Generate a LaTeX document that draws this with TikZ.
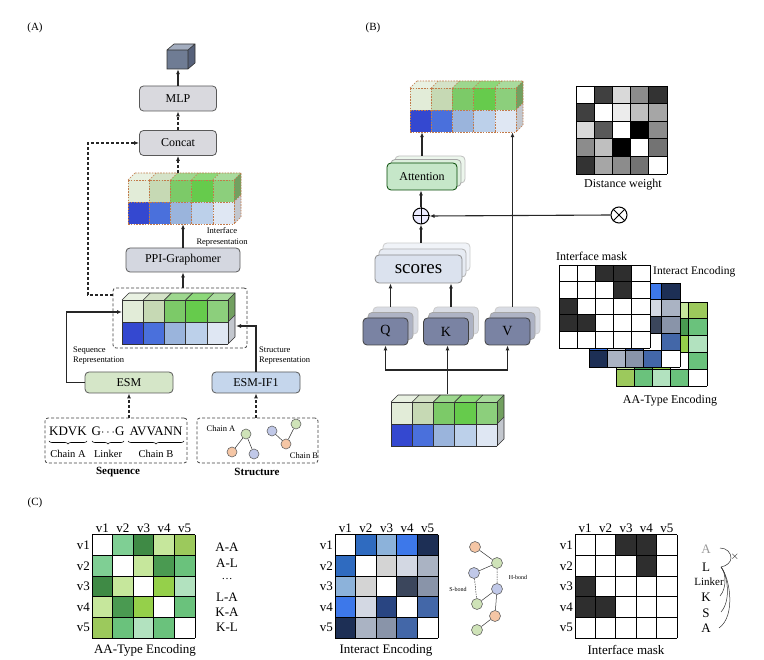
\documentclass[tikz,border=0pt]{standalone}
\usepackage{fontspec}
\setmainfont{Liberation Serif}
\usetikzlibrary{arrows.meta,decorations.pathreplacing}
% feature block colours
\definecolor{fg1}{HTML}{E2ECD8}\definecolor{fg2}{HTML}{C6D9B4}\definecolor{fg3}{HTML}{7CCA68}
\definecolor{fg4}{HTML}{66CB4C}\definecolor{fg5}{HTML}{8CCF7C}
\definecolor{fb1}{HTML}{3448D0}\definecolor{fb2}{HTML}{4A70DC}\definecolor{fb3}{HTML}{9AB4DC}
\definecolor{fb4}{HTML}{BCD0EA}\definecolor{fb5}{HTML}{DFE7F3}
\definecolor{fgside}{HTML}{72A060}\definecolor{fbside}{HTML}{C3C7CE}
% boxes
\definecolor{boxgray}{HTML}{D9D9DE}\definecolor{boxgray2}{HTML}{D4D7E0}
\definecolor{esmg}{HTML}{D5E6C8}\definecolor{esmb}{HTML}{C5D6EC}
\definecolor{attf}{HTML}{C6E7C9}\definecolor{attb}{HTML}{DCEFDD}\definecolor{attbb}{HTML}{ECF6EC}
\definecolor{scf}{HTML}{DBE2EE}\definecolor{scb}{HTML}{E6EBF3}\definecolor{scbb}{HTML}{F0F3F8}
\definecolor{qkf}{HTML}{7A83A3}\definecolor{qkb}{HTML}{AEB3C4}\definecolor{qkbb}{HTML}{D9DCE4}
\definecolor{cubef}{HTML}{6F7C94}\definecolor{cubet}{HTML}{A3ADBF}\definecolor{cubes}{HTML}{56617A}
% AA-type
\definecolor{aa1}{HTML}{7FCF94}\definecolor{aa2}{HTML}{3F8A45}\definecolor{aa3}{HTML}{C6E79C}
\definecolor{aa4}{HTML}{9CC95C}\definecolor{aa5}{HTML}{4A9A51}\definecolor{aa6}{HTML}{6AC27C}
\definecolor{aa7}{HTML}{95D04A}\definecolor{aa8}{HTML}{B2E2BF}
% interact
\definecolor{ie1}{HTML}{2F6BC0}\definecolor{ie2}{HTML}{8CB2DA}\definecolor{ie3}{HTML}{3D78EA}
\definecolor{ie4}{HTML}{1D2F55}\definecolor{ie5}{HTML}{D4D4D4}\definecolor{ie6}{HTML}{D3D8E3}
\definecolor{ie7}{HTML}{AAB3C3}\definecolor{ie8}{HTML}{3B465C}\definecolor{ie9}{HTML}{8994A9}
\definecolor{ie10}{HTML}{294582}\definecolor{ie11}{HTML}{4367A8}
% mask / distance
\definecolor{mk}{HTML}{2E2E2E}
\definecolor{dw1}{HTML}{404040}\definecolor{dw2}{HTML}{D9D9D9}\definecolor{dw3}{HTML}{8C8C8C}
\definecolor{dw4}{HTML}{333333}\definecolor{dw5}{HTML}{ECECEC}\definecolor{dw6}{HTML}{BFBFBF}
\definecolor{dw7}{HTML}{A6A6A6}\definecolor{dw8}{HTML}{595959}\definecolor{dw9}{HTML}{737373}
% graph nodes
\definecolor{ndo}{HTML}{F5C6A5}\definecolor{ndg}{HTML}{CFE3B8}\definecolor{ndb}{HTML}{C0C8E8}
\definecolor{dashbr}{HTML}{C27A4A}

\newcommand{\featblock}[3]{%
\begin{scope}[shift={(#1,#2)}]
\foreach \c [count=\i from 0] in {fg1,fg2,fg3,fg4,fg5}{
  \fill[\c!75!white] (\i*21.2,0) -- ++(7,-7) -- ++(21.2,0) -- ++(-7,7) -- cycle;
  \fill[\c] (\i*21.2,0) rectangle ++(21.2,22);
}
\foreach \c [count=\i from 0] in {fb1,fb2,fb3,fb4,fb5}{
  \fill[\c] (\i*21.2,22) rectangle ++(21.2,22);
}
\fill[fgside] (106,0) -- ++(7,-7) -- ++(0,22) -- ++(-7,7) -- cycle;
\fill[fbside] (106,22) -- ++(7,-7) -- ++(0,22) -- ++(-7,7) -- cycle;
\foreach \i in {0,...,5}{\draw[#3] (\i*21.2,0) -- ++(0,44); \draw[#3] (\i*21.2,0) -- ++(7,-7);}
\draw[#3] (0,0) -- (106,0); \draw[#3] (0,22) -- (106,22); \draw[#3] (0,44) -- (106,44);
\draw[#3] (7,-7) -- (113,-7) -- (113,37) -- (106,44);
\draw[#3] (106,22) -- (113,15);
\end{scope}}

\newcommand{\cmatrix}[6]{% x0 y0 cw ch rows linewidth
\foreach \row [count=\r from 0] in {#5}{
  \foreach \c [count=\k from 0] in \row {
    \fill[\c] (#1+\k*#3, #2+\r*#4) rectangle ++(#3,#4);
  }
}
\foreach \k in {0,...,5}{
  \draw[black, line width=#6] (#1+\k*#3, #2) -- ++(0,5*#4);
  \draw[black, line width=#6] (#1, #2+\k*#4) -- ++(5*#3,0);
}}

\newcommand{\vlabels}[5]{% x0 y0 cw ch prefix
\foreach \t [count=\k from 0] in {v1,v2,v3,v4,v5}{
  \node[vlab] (#5c\k) at (#1+\k*#3+#3/2, #2-7) {\t};
  \node[vlab, anchor=east] (#5r\k) at (#1-1, #2+\k*#4+#4/2) {\t};
}}

\begin{document}
\begin{tikzpicture}[x=1pt,y=-1pt,
  arr/.style={-{Latex[length=5pt,width=4pt]}, line width=1.1pt, draw=black!85},
  darr/.style={arr, dash pattern=on 3pt off 2pt},
  thinarr/.style={line width=0.5pt, draw=black!80},
  box/.style={draw=black!65, rounded corners=4pt, line width=0.8pt, inner sep=0pt, font=\fontsize{12}{14}\selectfont},
  dashframe/.style={draw=black!75, line width=0.8pt, dash pattern=on 3pt off 2pt, rounded corners=3pt, inner sep=0pt},
  solidb/.style={draw=black!80, line width=0.6pt},
  dashb/.style={draw=dashbr, line width=0.55pt, dash pattern=on 1.6pt off 1.2pt},
  blk/.style={inner sep=0pt, minimum width=113pt, minimum height=51pt},
  vlab/.style={font=\fontsize{13}{15}\selectfont, inner sep=1pt},
  lab/.style={font=\fontsize{12}{14}\selectfont, inner sep=0pt},
  small/.style={font=\fontsize{8.5}{10.5}\selectfont, inner sep=0pt, align=left},
  gn/.style={circle, draw=black!60, line width=0.6pt, minimum size=11pt, inner sep=0pt},
  op/.style={circle, draw=black, line width=1pt, minimum size=16pt, inner sep=0pt},
  brc/.style={decorate, decoration={brace, mirror, amplitude=3pt}, line width=0.6pt},
]
\useasboundingbox (0,0) rectangle (764,660);

% ================= Panel A =================
\node[lab, font=\fontsize{11}{13}\selectfont] (labA) at (35,28) {(A)};

% output cube
\fill[cubet] (167,50) -- (174,44) -- (195,44) -- (188,50) -- cycle;
\fill[cubef] (167,50) rectangle (188,69);
\fill[cubes] (188,50) -- (195,44) -- (195,63) -- (188,69) -- cycle;
\draw[black!80, line width=0.6pt] (167,50) rectangle (188,69) (167,50) -- (174,44) -- (195,44) -- (195,63) -- (188,69) (188,50) -- (195,44);
\node[inner sep=0pt, minimum width=21pt, minimum height=19pt] (cube) at (178,59.5) {};

\node[box, fill=boxgray, minimum width=77pt, minimum height=25pt] (mlp) at (178,98.5) {MLP};
\node[box, fill=boxgray, minimum width=77pt, minimum height=25pt] (concat) at (178,143) {Concat};
\node[box, fill=boxgray2, minimum width=114pt, minimum height=24pt] (ppi) at (183,260) {PPI-Graphomer};

\featblock{128}{180}{dashb}
\node[blk] (blkA) at (184.5,198.5) {};
\node[small, align=center] (irep) at (222,237) {Interface\\Representation};

\node[dashframe, minimum width=134pt, minimum height=60pt] (dfr) at (180,318) {};
\featblock{122}{300}{solidb}
\node[blk] (blkL) at (178.5,318.5) {};

\draw[arr] (mlp.north) -- (cube.south);
\draw[darr] (concat.north) -- (mlp.south);
\draw[darr] (blkA.north -| concat.south) -- (concat.south);
\draw[arr] (ppi.north) -- (ppi.north |- blkA.south);
\draw[arr] (dfr.north -| ppi.south) -- (ppi.south);

\coordinate (dl) at (113,295);
\coordinate (bendA) at (88,295);
\draw[darr] (dl) -- (bendA) |- (concat.west);

\node[box, fill=esmg, minimum width=88pt, minimum height=21pt] (esm) at (129,382.5) {ESM};
\node[box, fill=esmb, minimum width=88pt, minimum height=21pt] (esmif) at (256,382.5) {ESM-IF1};

\coordinate (seqin) at (122,312);
\coordinate (strin) at (236,326);
\draw[arr] (esm.west) -- ++(-18,0) |- (seqin);
\draw[arr] (esmif.north) |- (strin);
\node[small, anchor=west] (seqrep) at (73,355.5) {Sequence\\Representation};
\node[small, anchor=west] (strrep) at (259,355.5) {Structure\\Representation};

% sequence box
\node[dashframe, minimum width=142pt, minimum height=45pt] (seqbox) at (116,440.5) {};
\draw[darr] (seqbox.north -| esm.south) -- (esm.south);
\node[lab, font=\fontsize{13}{15}\selectfont] (s1) at (68,431) {KDVK};
\node[lab, font=\fontsize{13}{15}\selectfont] (s2) at (108,431) {G$\cdots$G};
\node[lab, font=\fontsize{13}{15}\selectfont] (s3) at (156,431) {AVVANN};
\draw[brc] (49,441) -- (87,441);
\draw[brc] (92,441) -- (124,441);
\draw[brc] (128,441) -- (184,441);
\node[lab, font=\fontsize{10.5}{12}\selectfont] (ca) at (68,453.5) {Chain A};
\node[lab, font=\fontsize{10.5}{12}\selectfont] (lk) at (108,453.5) {Linker};
\node[lab, font=\fontsize{10.5}{12}\selectfont] (cb) at (156,453.5) {Chain B};
\node[lab, font=\bfseries\fontsize{11}{13}\selectfont] (seqt) at (118,472) {Sequence};

% structure box
\node[dashframe, minimum width=121pt, minimum height=45pt] (strbox) at (257.5,440.5) {};
\draw[darr] (strbox.north -| esmif.south) -- (esmif.south);
\node[small] (sca) at (221,429) {Chain A};
\node[gn, fill=ndg, minimum size=10pt] (a1) at (246,434) {};
\node[gn, fill=ndo, minimum size=10pt] (a2) at (232,452) {};
\node[gn, fill=ndb, minimum size=10pt] (a3) at (254,454) {};
\draw[thinarr] (a1) -- (a2) (a1) -- (a3);
\node[gn, fill=ndb, minimum size=10pt] (b1) at (272,431) {};
\node[gn, fill=ndo, minimum size=10pt] (b2) at (286,444) {};
\node[gn, fill=ndg, minimum size=10pt] (b3) at (296,424) {};
\draw[thinarr] (b1) -- (b2) (b2) -- (b3);
\node[small] (scb) at (304,456) {Chain B};
\node[lab, font=\bfseries\fontsize{11}{13}\selectfont] (strt) at (257,472) {Structure};

% ================= Panel B =================
\node[lab, font=\fontsize{11}{13}\selectfont] (labB) at (373,28) {(B)};

\featblock{410}{88}{dashb}
\node[blk] (blkB) at (466.5,106.5) {};

\node[box, fill=attbb, draw=black!25, minimum width=70pt, minimum height=27pt] (attb2) at (430,169.5) {};
\node[box, fill=attb, draw=black!35, minimum width=70pt, minimum height=27pt] (attb1) at (426,173) {};
\node[box, fill=attf, draw=black!60!green!70!black, minimum width=70pt, minimum height=27pt] (attn) at (422,176.5) {Attention};

\node[op, fill=blue!8] (plus) at (421,216) {};
\draw[line width=1pt] (plus.north) -- (plus.south) (plus.west) -- (plus.east);
\node[op, fill=white] (times) at (619,215) {};
\draw[line width=1pt] (times.north west) -- (times.south east) (times.north east) -- (times.south west);

\node[box, fill=scbb, draw=black!20, minimum width=87pt, minimum height=28pt] (scb2) at (426.5,257) {};
\node[box, fill=scb, draw=black!30, minimum width=87pt, minimum height=28pt] (scb1) at (422.5,263) {};
\node[box, fill=scf, draw=black!45, minimum width=87pt, minimum height=28pt, font=\fontsize{19}{21}\selectfont] (scores) at (418.5,269) {scores};

\foreach \n/\t/\xx in {q/Q/385.5, k/K/446, v/V/507.5}{
  \node[box, fill=qkbb, draw=black!20, minimum width=45pt, minimum height=27pt] (\n b2) at (\xx+10,320.5) {};
  \node[box, fill=qkb, draw=black!35, minimum width=45pt, minimum height=27pt] (\n b1) at (\xx+5,326) {};
  \node[box, fill=qkf, draw=black!75, minimum width=45pt, minimum height=27pt, font=\fontsize{14}{16}\selectfont] (\n) at (\xx,331.5) {\t};
}

\featblock{391}{402}{solidb}
\node[blk] (inB) at (447.5,419.5) {};

\draw[arr] (attb2.north -| attn.north) -- (attn.north |- blkB.south);
\draw[arr] (plus.north) -- (plus.north |- attn.south);
\draw[arr] (scb2.north -| plus.south) -- (plus.south);
\draw[arr] (times.west) -- (plus.east);
\draw[arr] (vb2.north -| vb1.north) -- (vb1.north |- blkB.south);
\draw[arr] (qb2.north -| qb1.north) -- (scores.south -| qb1.north);
\draw[arr] (kb2.north -| kb1.north) -- (scores.south -| kb1.north);
\draw[arr] (inB.north) -- (inB.north |- k.south);
\coordinate (junc) at (447.5,370);
\draw[arr] (junc) -| (q.south);
\draw[arr] (junc) -| (v.south);

% distance weight
\cmatrix{576}{86}{18.2}{17.6}{{white,dw1,dw2,dw3,dw4},{dw1,white,dw5,dw6,dw7},{dw2,dw8,white,black,dw3},{dw3,dw6,black,white,dw9},{dw4,dw7,dw3,dw9,white}}{0.8pt}
\node[lab] (dwt) at (623,185) {Distance weight};

% stacked encodings
\cmatrix{616}{302}{18.2}{16.8}{{white,aa1,aa2,aa3,aa4},{aa1,white,aa3,aa5,aa6},{aa2,aa3,white,aa7,aa8},{aa3,aa5,aa7,white,aa6},{aa4,aa6,aa8,aa6,white}}{0.8pt}
\cmatrix{589}{283}{18.2}{16.8}{{white,ie1,ie2,ie3,ie4},{ie1,white,ie5,ie6,ie7},{ie2,ie5,white,ie8,ie9},{ie3,ie6,ie10,white,ie11},{ie4,ie7,ie9,ie11,white}}{0.8pt}
\cmatrix{559}{265}{18.2}{16.6}{{white,white,mk,mk,white},{white,white,white,mk,white},{mk,white,white,white,white},{mk,mk,white,white,white},{white,white,white,white,white}}{0.8pt}
\node[lab, anchor=west] (imt) at (556,256) {Interface mask};
\node[lab, anchor=west, font=\fontsize{11.5}{13}\selectfont] (iet) at (653,272) {Interact Encoding};
\node[lab] (aat) at (670,401) {AA-Type Encoding};

% ================= Panel C =================
\node[lab, font=\fontsize{11}{13}\selectfont] (labC) at (35,503) {(C)};

\cmatrix{92}{535}{20.6}{20.6}{{white,aa1,aa2,aa3,aa4},{aa1,white,aa3,aa5,aa6},{aa2,aa3,white,aa7,aa8},{aa3,aa5,aa7,white,aa6},{aa4,aa6,aa8,aa6,white}}{1pt}
\vlabels{92}{535}{20.6}{20.6}{L}
\node[lab, font=\fontsize{13}{15}\selectfont] (aact) at (145,650) {AA-Type Encoding};
\foreach \t/\yy [count=\i] in {A-A/547, A-L/563, L-A/597, K-A/612, K-L/627}{
  \node[lab, font=\fontsize{13}{15}\selectfont] (pr\i) at (227,\yy) {\t};
}
\node[lab, font=\fontsize{11}{12}\selectfont] (prdots) at (227,579) {\dots};

\cmatrix{335}{535}{20.6}{20.6}{{white,ie1,ie2,ie3,ie4},{ie1,white,ie5,ie6,ie7},{ie2,ie5,white,ie8,ie9},{ie3,ie6,ie10,white,ie11},{ie4,ie7,ie9,ie11,white}}{1pt}
\vlabels{335}{535}{20.6}{20.6}{M}
\node[lab, font=\fontsize{13}{15}\selectfont] (iect) at (386,650) {Interact Encoding};

\node[gn, fill=ndo] (g1) at (475,547) {};
\node[gn, fill=ndg] (g2) at (497,563) {};
\node[gn, fill=ndb] (g3) at (474,573) {};
\node[gn, fill=ndb] (g4) at (497,589) {};
\node[gn, fill=ndg] (g5) at (477,604) {};
\node[gn, fill=ndo] (g6) at (495,616) {};
\node[gn, fill=ndg] (g7) at (477,630) {};
\draw[thinarr] (g1) -- (g2) (g2) -- (g3) (g4) -- (g5) (g4) -- (g6) (g6) -- (g7);
\draw[thinarr, dash pattern=on 1.5pt off 1pt] (g3) -- (g5) (g2) -- (g4);
\node[font=\fontsize{6}{7}\selectfont, inner sep=0pt] (hb) at (518,577) {H-bond};
\node[font=\fontsize{6}{7}\selectfont, inner sep=0pt] (sb) at (458,589) {S-bond};

\cmatrix{575}{535}{20.4}{20.6}{{white,white,mk,mk,white},{white,white,white,mk,white},{mk,white,white,white,white},{mk,mk,white,white,white},{white,white,white,white,white}}{1pt}
\vlabels{575}{535}{20.4}{20.6}{R}
\node[lab, font=\fontsize{13}{15}\selectfont] (imct) at (626,650) {Interface mask};

\node[lab, font=\fontsize{13}{15}\selectfont, text=black!40] (la1) at (706,549) {A};
\node[lab, font=\fontsize{13}{15}\selectfont] (lL) at (706,567) {L};
\node[lab, font=\fontsize{11}{13}\selectfont] (lLk) at (709,582) {Linker};
\node[lab, font=\fontsize{13}{15}\selectfont] (lK) at (706,597) {K};
\node[lab, font=\fontsize{13}{15}\selectfont] (lS) at (706,613) {S};
\node[lab, font=\fontsize{13}{15}\selectfont] (la2) at (706,628) {A};
\coordinate (pL) at (721,567);
\coordinate (pK) at (720,596);
\coordinate (pS) at (721,612);
\coordinate (pA) at (719,628);
\coordinate (pA1) at (720,548);
\coordinate (pX) at (731,558);
\draw[thinarr] (pK) .. controls (727,588) and (726,573) .. (pL);
\draw[thinarr] (pS) .. controls (731,601) and (728,576) .. (pL);
\draw[thinarr] (pA) .. controls (736,616) and (730,578) .. (pL);
\draw[thinarr] (pA1) .. controls (727,548) and (731,553) .. (pX);
\draw[thinarr] (pL) .. controls (727,566) and (731,562) .. (pX);
\node[inner sep=0pt, font=\fontsize{11}{13}\selectfont] (xx) at (735,557) {$\times$};
\end{tikzpicture}
\end{document}
